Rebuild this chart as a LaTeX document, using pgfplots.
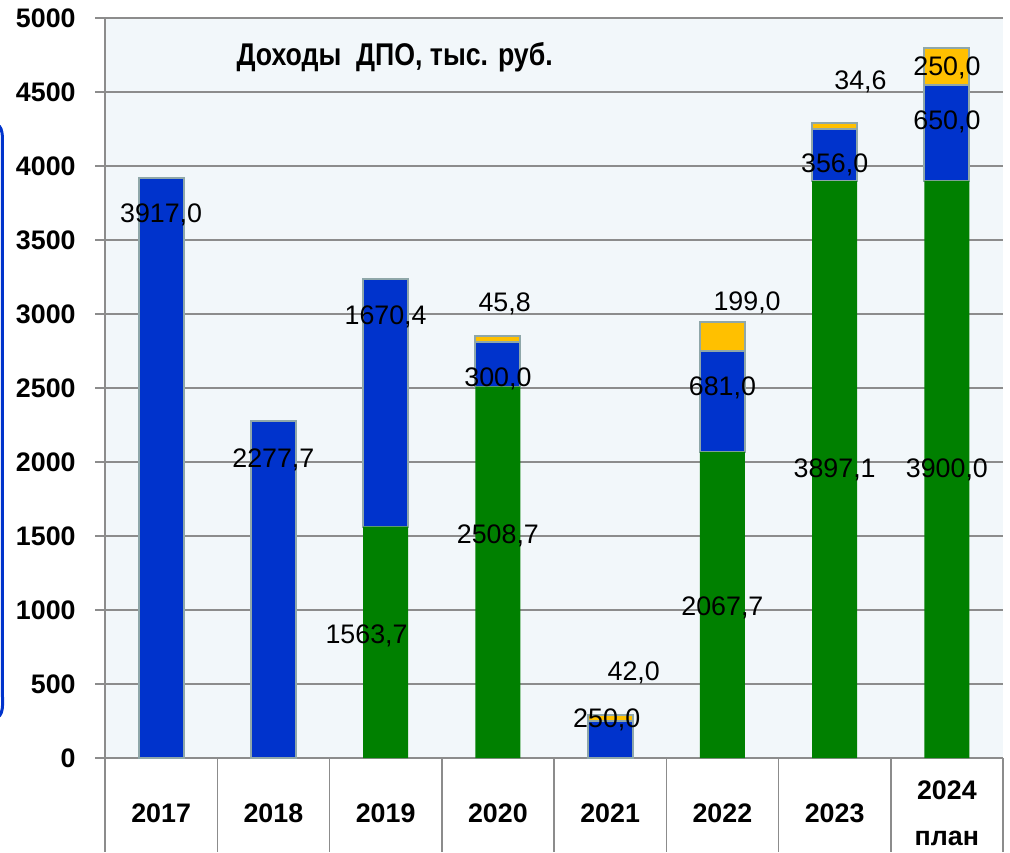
\documentclass[border=0pt]{standalone}
\usepackage{fontspec}
\setmainfont{Liberation Sans}
\newfontfamily\titlefont[FakeStretch=0.85]{Liberation Sans}
\usepackage{pgfplots}
\pgfplotsset{compat=1.18}

\definecolor{cgreen}{RGB}{0,128,0}
\definecolor{cblue}{RGB}{0,51,204}
\definecolor{cyellow}{RGB}{255,192,0}
\definecolor{cedge}{RGB}{143,167,169}
\definecolor{cgrid}{RGB}{140,140,140}
\definecolor{cback}{RGB}{242,247,250}

\begin{document}
\begin{tikzpicture}
\useasboundingbox (0,0) rectangle (505pt,426pt);
% rand der folie links
\draw[cblue, line width=1.5pt] (-3pt,364pt) to[out=0,in=90] (1.2pt,352pt)
  -- (1.2pt,80pt) to[out=-90,in=0] (-3pt,67pt);
\begin{axis}[
    at={(52.5pt,47pt)}, anchor=south west,
    scale only axis,
    width=449pt, height=370pt,
    ybar stacked,
    bar width=22.5pt,
    xmin=-0.5, xmax=7.5,
    ymin=0, ymax=5000,
    ytick={0,500,1000,1500,2000,2500,3000,3500,4000,4500,5000},
    yticklabels={0,500,1000,1500,2000,2500,3000,3500,4000,4500,5000},
    xtick={0,...,7},
    xticklabels={2017,2018,2019,2020,2021,2022,2023,{2024\\план}},
    axis lines*=left,
    axis line style={cgrid, line width=0.75pt},
    axis background/.style={fill=cback},
    ymajorgrids=true,
    grid style={cgrid, line width=0.75pt},
    tick align=outside,
    major tick length=5pt,
    ytick style={cgrid, line width=0.75pt},
    xtick style={draw=none},
    tick label style={font=\fontsize{13.4}{16}\selectfont\bfseries},
    yticklabel style={anchor=east, inner sep=0pt, xshift=-9.5pt},
    xticklabel style={font=\fontsize{13.4}{23}\selectfont\bfseries, align=center, anchor=center, yshift=-22.5pt},
    clip=false,
]
\addplot[fill=cgreen, draw=none] coordinates {
    (0,0) (1,0) (2,1563.7) (3,2508.7) (4,0) (5,2067.7) (6,3897.1) (7,3900.0)
};
\addplot[fill=cblue, draw=cedge, line width=1pt] coordinates {
    (0,3917.0) (1,2277.7) (2,1670.4) (3,300.0) (4,250.0) (5,681.0) (6,356.0) (7,650.0)
};
\addplot[fill=cyellow, draw=cedge, line width=1pt] coordinates {
    (0,0) (1,0) (2,0) (3,45.8) (4,42.0) (5,199.0) (6,34.6) (7,250.0)
};

% cell dividers under the axis
\pgfplotsinvokeforeach{-0.5,0.5,1.5,2.5,3.5,4.5,5.5,6.5,7.5}{
  \draw[cgrid, line width=0.75pt] (axis cs:#1,0) -- ++(0pt,-47pt);
}

% label positions
\coordinate (l1) at (axis cs:0,3669);
\coordinate (l2) at (axis cs:1,2014);
\coordinate (l3) at (axis cs:1.83,824);
\coordinate (l4) at (axis cs:2,2980);
\coordinate (l5) at (axis cs:3,1500);
\coordinate (l6) at (axis cs:3,2561);
\coordinate (l7) at (axis cs:3.06,3068);
\coordinate (l8) at (axis cs:3.97,257);
\coordinate (l9) at (axis cs:4.21,574);
\coordinate (l10) at (axis cs:5,1014);
\coordinate (l11) at (axis cs:5,2500);
\coordinate (l12) at (axis cs:5.22,3074);
\coordinate (l13) at (axis cs:6,1946);
\coordinate (l14) at (axis cs:6,4007);
\coordinate (l15) at (axis cs:6.23,4568);
\coordinate (l16) at (axis cs:7,1946);
\coordinate (l17) at (axis cs:7,4297);
\coordinate (l18) at (axis cs:7,4662);
\coordinate (tt) at (axis cs:2.08,4736);
\end{axis}

\begin{scope}[every node/.style={font=\fontsize{13.4}{16}\selectfont, inner sep=0pt}]
\node at (l1) {3917,0};
\node at (l2) {2277,7};
\node at (l3) {1563,7};
\node at (l4) {1670,4};
\node at (l5) {2508,7};
\node at (l6) {300,0};
\node at (l7) {45,8};
\node at (l8) {250,0};
\node at (l9) {42,0};
\node at (l10) {2067,7};
\node at (l11) {681,0};
\node at (l12) {199,0};
\node at (l13) {3897,1};
\node at (l14) {356,0};
\node at (l15) {34,6};
\node at (l16) {3900,0};
\node at (l17) {650,0};
\node at (l18) {250,0};
\end{scope}
\node[font=\fontsize{15.7}{18}\selectfont\titlefont\bfseries, inner sep=0pt]
  at (tt) {Доходы\ \ ДПО, тыс. руб.};
\end{tikzpicture}
\end{document}
